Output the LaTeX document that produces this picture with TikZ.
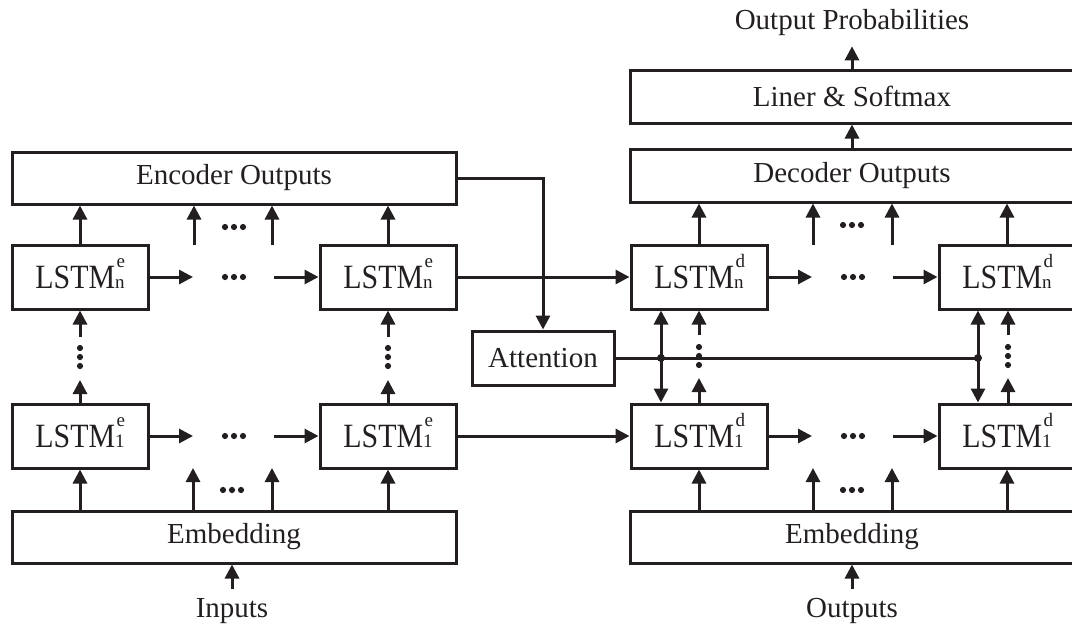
\documentclass[tikz,border=0pt]{standalone}
\usepackage{fontspec}
\setmainfont{Liberation Serif}
\usepackage{graphicx}
\usetikzlibrary{arrows.meta}
\definecolor{ink}{RGB}{35,31,32}

% LSTM cell label with stacked super- and subscript
\newcommand{\lstmlab}[2]{%
  \scalebox{0.88}[1]{\fontsize{34}{40}\selectfont LSTM}%
  \smash{\rlap{\kern1.5pt\raisebox{21pt}{\fontsize{19}{19}\selectfont #1}}}%
  \raisebox{0pt}{\fontsize{19}{19}\selectfont #2}}
% three dots in a row / in a column, centred on a named coordinate
\newcommand{\rowdots}[1]{\fill[ink] ([xshift=-9pt]#1) circle (3.1pt) (#1) circle (3.1pt) ([xshift=9pt]#1) circle (3.1pt);}
\newcommand{\coldots}[1]{\fill[ink] ([yshift=-9pt]#1) circle (3.1pt) (#1) circle (3.1pt) ([yshift=9pt]#1) circle (3.1pt);}

\tikzset{
  box/.style={draw=ink, line width=3pt, inner sep=0pt, text=ink,
              font=\fontsize{29}{34}\selectfont},
  wide/.style={box, minimum width=444pt, minimum height=52pt},
  cell/.style={box, minimum width=136pt, minimum height=64pt},
  lab/.style={inner sep=0pt, text=ink, font=\fontsize{29}{34}\selectfont},
  tip/.tip={Triangle[length=14pt,width=14pt]},
  arr/.style={draw=ink, line width=3pt, -tip},
  biarr/.style={draw=ink, line width=3pt, tip-tip},
  wire/.style={draw=ink, line width=3pt},
}

\begin{document}
\begin{tikzpicture}[x=1pt, y=-1pt]
\path[use as bounding box, clip] (0,0) rectangle (1072,630);

% ---------------- encoder ----------------
\node[wide] (eo) at (234,178) {Encoder Outputs};
\node[cell] (enL) at (80,277) {\lstmlab{e}{n}};
\node[cell] (enR) at (388,277) {\lstmlab{e}{n}};
\node[cell] (e1L) at (80,436) {\lstmlab{e}{1}};
\node[cell] (e1R) at (388,436) {\lstmlab{e}{1}};
\node[wide] (emb) at (234,537) {Embedding};
\node[lab] (inp) at (232,611) {Inputs};

% cells to encoder outputs
\draw[arr] (enL.north) -- (enL.north |- eo.south);
\draw[arr] (enR.north) -- (enR.north |- eo.south);
\coordinate (eoA) at (194,245);
\coordinate (eoB) at (272,245);
\draw[arr] (eoA) -- (eoA |- eo.south);
\draw[arr] (eoB) -- (eoB |- eo.south);
\coordinate (eoDots) at (234,227);
\rowdots{eoDots}

% recurrent steps along the rows
\coordinate (enA) at (193,277);
\coordinate (enB) at (274,277);
\draw[arr] (enL.east) -- (enA);
\draw[arr] (enB) -- (enR.west);
\coordinate (enDots) at (234,277);
\rowdots{enDots}
\coordinate (e1A) at (193,436);
\coordinate (e1B) at (274,436);
\draw[arr] (e1L.east) -- (e1A);
\draw[arr] (e1B) -- (e1R.west);
\coordinate (e1Dots) at (234,436);
\rowdots{e1Dots}

% stacked layers
\coordinate (evLa) at (80,337);
\coordinate (evLb) at (80,380);
\draw[arr] (evLa) -- (enL.south);
\draw[arr] (e1L.north) -- (evLb);
\coordinate (evLdots) at (80,357);
\coldots{evLdots}
\coordinate (evRa) at (388,337);
\coordinate (evRb) at (388,380);
\draw[arr] (evRa) -- (enR.south);
\draw[arr] (e1R.north) -- (evRb);
\coordinate (evRdots) at (388,357);
\coldots{evRdots}

% embedding to first layer
\draw[arr] (e1L.south |- emb.north) -- (e1L.south);
\draw[arr] (e1R.south |- emb.north) -- (e1R.south);
\coordinate (ebA) at (193,468);
\coordinate (ebB) at (272,468);
\draw[arr] (ebA |- emb.north) -- (ebA);
\draw[arr] (ebB |- emb.north) -- (ebB);
\coordinate (ebDots) at (232,490);
\rowdots{ebDots}
\draw[arr] ([yshift=9pt]inp.north) -- (inp.north |- emb.south);

% ---------------- attention ----------------
\node[box, minimum width=142pt, minimum height=54pt] (att) at (543,358) {Attention};
\draw[arr] (eo.east) -| (att.north);

% ---------------- decoder ----------------
\node[lab] (op) at (852,23) {Output Probabilities};
\node[box, minimum width=444pt, minimum height=53pt] (dl) at (852,96.5) {Liner \& Softmax};
\node[box, minimum width=444pt, minimum height=53pt] (do) at (852,175.5) {Decoder Outputs};
\node[cell] (dnL) at (699,277) {\lstmlab{d}{n}};
\node[cell] (dnR) at (1007,277) {\lstmlab{d}{n}};
\node[cell] (d1L) at (699,436) {\lstmlab{d}{1}};
\node[cell] (d1R) at (1007,436) {\lstmlab{d}{1}};
\node[wide] (demb) at (852,537) {Embedding};
\node[lab] (outp) at (852,611) {Outputs};

\draw[arr] (dl.north) -- ([yshift=-10pt]op.south);
\draw[arr] (do.north) -- (dl.south);

% encoder states handed to the decoder
\draw[arr] (enR.east) -- (dnL.west);
\draw[arr] (e1R.east) -- (d1L.west);

% cells to decoder outputs
\draw[arr] (dnL.north) -- (dnL.north |- do.south);
\draw[arr] (dnR.north) -- (dnR.north |- do.south);
\coordinate (doA) at (813,245);
\coordinate (doB) at (892,245);
\draw[arr] (doA) -- (doA |- do.south);
\draw[arr] (doB) -- (doB |- do.south);
\coordinate (doDots) at (852,225);
\rowdots{doDots}

% recurrent steps along the rows
\coordinate (dnA) at (812,277);
\coordinate (dnB) at (893,277);
\draw[arr] (dnL.east) -- (dnA);
\draw[arr] (dnB) -- (dnR.west);
\coordinate (dnDots) at (853,277);
\rowdots{dnDots}
\coordinate (d1A) at (812,436);
\coordinate (d1B) at (893,436);
\draw[arr] (d1L.east) -- (d1A);
\draw[arr] (d1B) -- (d1R.west);
\coordinate (d1Dots) at (853,436);
\rowdots{d1Dots}

% attention context fed to both decoder layers
\coordinate (jL) at (661,358);
\coordinate (jR) at (978,358);
\draw[wire] (att.east) -- (jR);
\draw[biarr] (dnL.south -| jL) -- (d1L.north -| jL);
\draw[biarr] (dnR.south -| jR) -- (d1R.north -| jR);
\fill[ink] (jL) circle (4pt);
\fill[ink] (jR) circle (4pt);

% stacked layers
\coordinate (dvLa) at (699,335);
\coordinate (dvLb) at (699,378);
\draw[arr] (dvLa) -- (dnL.south);
\draw[arr] (d1L.north) -- (dvLb);
\coordinate (dvLdots) at (699,356);
\coldots{dvLdots}
\coordinate (dvRa) at (1008,335);
\coordinate (dvRb) at (1008,378);
\draw[arr] (dvRa) -- (dvRa |- dnR.south);
\draw[arr] (dvRb |- d1R.north) -- (dvRb);
\coordinate (dvRdots) at (1008,356);
\coldots{dvRdots}

% embedding to first layer
\draw[arr] (d1L.south |- demb.north) -- (d1L.south);
\draw[arr] (d1R.south |- demb.north) -- (d1R.south);
\coordinate (dbA) at (813,468);
\coordinate (dbB) at (892,468);
\draw[arr] (dbA |- demb.north) -- (dbA);
\draw[arr] (dbB |- demb.north) -- (dbB);
\coordinate (dbDots) at (852,490);
\rowdots{dbDots}
\draw[arr] ([yshift=9pt]outp.north) -- (outp.north |- demb.south);
\end{tikzpicture}
\end{document}
